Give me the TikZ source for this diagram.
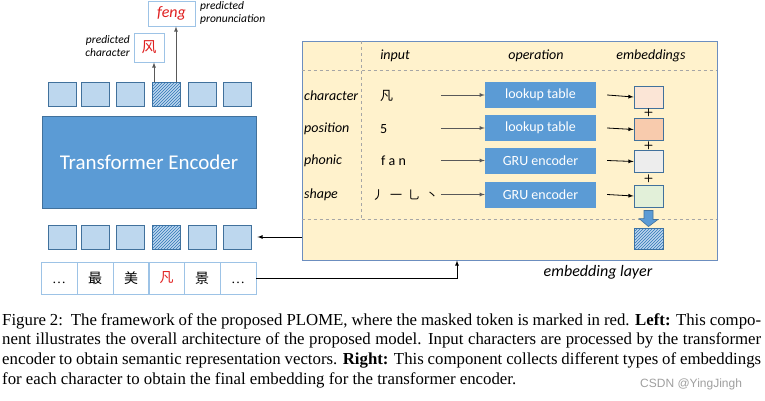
\documentclass[tikz,border=0pt]{standalone}
\usepackage{fontspec}
\setmainfont{Liberation Serif}
\newfontfamily\diafont{Carlito}
\newfontfamily\cjk{Noto Sans CJK SC}
\usetikzlibrary{patterns,calc}
\definecolor{encblue}{HTML}{5B9BD5}
\definecolor{edgeblue}{HTML}{41719C}
\definecolor{sqblue}{HTML}{BDD7EE}
\definecolor{hatchblue}{HTML}{2E75B6}
\definecolor{layerbg}{HTML}{FFF2CC}
\definecolor{layeredge}{HTML}{6C8EBF}
\definecolor{tokedge}{HTML}{9DC3E6}
\definecolor{predred}{HTML}{E02020}
\definecolor{arrgray}{HTML}{595959}

\begin{document}
\begin{tikzpicture}[x=1pt,y=-1pt,
    sq/.style={draw=edgeblue,fill=sqblue,line width=.9pt,minimum width=28pt,
      minimum height=24pt,inner sep=0pt},
    hatched/.style={sq,postaction={pattern=north east lines,pattern color=hatchblue}},
    tok/.style={draw=tokedge,minimum width=35.8pt,minimum height=32pt,inner sep=0pt,
      font=\cjk\fontsize{14}{14}\selectfont},
    opbox/.style={fill=encblue,minimum width=111pt,minimum height=26pt,inner sep=0pt,
      text=white,font=\diafont\fontsize{14}{14}\selectfont},
    embbox/.style={draw=edgeblue,line width=.9pt,minimum width=29pt,minimum height=22pt,
      inner sep=0pt},
    lbl/.style={font=\diafont\itshape\fontsize{14}{14}\selectfont,inner sep=0pt},
    predbox/.style={draw=tokedge,fill=white,line width=.8pt,inner sep=0pt},
    arr/.style={-latex,arrgray,line width=.8pt}]
  \useasboundingbox (0,0) rectangle (765,401);

  % left part: encoder with token rows
  \node[draw=edgeblue,fill=encblue,line width=.9pt,minimum width=214pt,minimum height=92pt,
    text=white,font=\diafont\fontsize{21}{21}\selectfont] (enc) at (149,162) {Transformer Encoder};
  \foreach \i/\x in {1/62,2/95,3/130,5/202,6/237} {
    \node[sq] (t\i) at (\x,94.5) {};
    \node[sq] (b\i) at (\x,237) {};
  }
  \node[hatched] (t4) at (166,94.5) {};
  \node[hatched] (b4) at (166,237) {};
  \foreach \i/\x/\c in {1/59/{\vphantom{景}\rmfamily\ldots},2/95/最,3/131/美,4/166.5/\textcolor{predred}{凡},5/202/景,6/238/{\vphantom{景}\rmfamily\ldots}}
    \node[tok] (tok\i) at (\x,278) {\c};

  % predictions
  \node[predbox,minimum width=30pt,minimum height=29pt,text=predred,
    font=\cjk\fontsize{15}{15}\selectfont] (pc) at (149,47.5) {风};
  \node[predbox,minimum width=47pt,minimum height=25pt,text=predred,
    font=\diafont\itshape\fontsize{16}{16}\selectfont] (pp) at (171.5,13.5) {feng};
  \node[lbl,font=\diafont\itshape\fontsize{11.5}{13.5}\selectfont,align=right,anchor=east]
    at (130,46) {predicted\\character};
  \node[lbl,font=\diafont\itshape\fontsize{11.5}{13.5}\selectfont,align=left,anchor=west]
    at (200,13) {predicted\\pronunciation};
  \draw[arr] ([xshift=-12pt]t4.north) -- ([xshift=-12pt]t4.north |- pc.south);
  \draw[arr] ([xshift=10pt]t4.north) -- ([xshift=10pt]t4.north |- pp.south);

  % right part: embedding layer
  \node[draw=layeredge,fill=layerbg,line width=.9pt,minimum width=415pt,
    minimum height=219pt,inner sep=0pt] (emb) at (509.5,150.5) {};
  \draw[gray!70,dashed,line width=.5pt] (361,41) -- (361,219);
  \draw[gray!70,dashed,line width=.5pt] (emb.west |- 0,70) -- (emb.east |- 0,70);
  \draw[gray!70,dashed,line width=.5pt] (emb.west |- 0,219) -- (emb.east |- 0,219);
  \node[lbl] at (395,56) {input};
  \node[lbl] at (536,56) {operation};
  \node[lbl] at (651,56) {embeddings};

  \node[lbl,anchor=west] at (304,96) {character};
  \node[lbl,anchor=west] at (304,129) {position};
  \node[lbl,anchor=west] at (304,161) {phonic};
  \node[lbl,anchor=west] at (304,195) {shape};
  \node[anchor=west,inner sep=0pt,font=\cjk\fontsize{13}{13}\selectfont] at (380,96) {凡};
  \node[anchor=west,inner sep=0pt,font=\diafont\fontsize{14}{14}\selectfont] at (380,129) {5};
  \node[anchor=west,inner sep=0pt,font=\diafont\fontsize{14}{14}\selectfont] at (381,161) {f a n};
  \node[anchor=west,inner sep=0pt,font=\cjk\fontsize{12}{12}\selectfont] at (372,195) {丿\enspace 一\enspace 乚\enspace 丶};

  \node[opbox] (op1) at (540.5,95) {lookup table};
  \node[opbox] (op2) at (540.5,128) {lookup table};
  \node[opbox] (op3) at (540.5,160.5) {GRU encoder};
  \node[opbox] (op4) at (540.5,194.5) {GRU encoder};
  \node[embbox,fill={rgb,255:red,251;green,229;blue,214}] (e1) at (648.5,97) {};
  \node[embbox,fill={rgb,255:red,248;green,203;blue,173}] (e2) at (648.5,129.5) {};
  \node[embbox,fill={rgb,255:red,237;green,237;blue,237}] (e3) at (648.5,161.5) {};
  \node[embbox,fill={rgb,255:red,226;green,240;blue,217}] (e4) at (648.5,196) {};
  \node[hatched,minimum width=29pt,minimum height=21pt] (efin) at (648.5,238.5) {};
  \foreach \i in {1,...,4} {
    \draw[arr] ([xshift=-44pt]op\i.west) -- (op\i.west);
    \draw[-latex,black,line width=.8pt] ([xshift=11pt]op\i.east) -- (e\i.west);
  }
  \foreach \i/\j in {1/2,2/3,3/4}
    \node[inner sep=0pt,font=\sffamily\bfseries\fontsize{11}{11}\selectfont] at ($(e\i.south)!.5!(e\j.north)$) {+};
  % block arrow down
  \draw[draw=edgeblue,fill=encblue,line width=.6pt]
    ($(e4.south)+(-4.5,3)$) -- ++(9,0) -- ++(0,9) -- ++(5,0) -- ($(efin.north)+(0,-1)$)
    -- ++(-9.5,-8) -- ++(5,0) -- cycle;
  \node[lbl,font=\diafont\itshape\fontsize{16}{16}\selectfont] at (598,272) {embedding layer};

  % connections between the two parts
  \draw[-latex,black,line width=.8pt] (tok6.east) -| ([xshift=-52.5pt]emb.south);
  \draw[-latex,black,line width=.8pt] (emb.west |- b6.east) -- ([xshift=6pt]b6.east);

  % caption
  \node[anchor=north west,inner sep=0pt,text width=759pt,align=justify,
    font=\fontsize{16.8}{19.8}\selectfont] (cap) at (2,313)
    {Figure 2:\ \ The framework of the proposed PLOME, where the masked token is marked in red. \textbf{Left:} This compo-\linebreak
     nent illustrates the overall architecture of the proposed model. Input characters are processed by the transformer\linebreak
     encoder to obtain semantic representation vectors. \textbf{Right:} This component collects different types of embeddings\linebreak
     for each character to obtain the final embedding for the transformer encoder.};
  \node[anchor=west,inner sep=0pt,text=gray!75,font=\fontspec{Liberation Sans}\fontsize{12}{12}\selectfont]
    (wm) at (640,384) {CSDN @YingJingh};
\end{tikzpicture}
\end{document}
